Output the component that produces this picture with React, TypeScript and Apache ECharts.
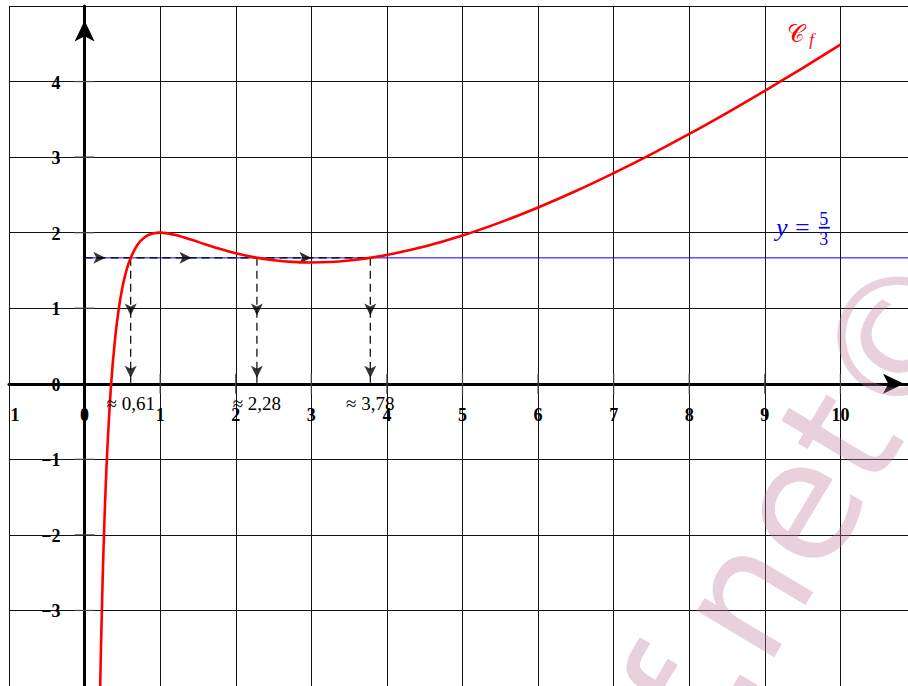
import React, { useEffect, useRef } from "react";
import * as echarts from "echarts";

// Curve C_f : points
const curveX = [0.2, 0.21, 0.22, 0.24, 0.26, 0.28, 0.3, 0.35, 0.4, 0.45, 0.5, 0.55, 0.6, 0.7, 0.8, 0.9, 1, 1.25, 1.5, 1.75, 2, 2.25, 2.5, 2.75, 3, 3.25, 3.5, 3.75, 4, 4.5, 5, 5.5, 6, 6.5, 7, 7.5, 8, 8.5, 9, 9.5, 10];
const curveY = [-4.362, -3.833, -3.36, -2.552, -1.89, -1.342, -0.884, -0.022, 0.565, 0.977, 1.273, 1.487, 1.643, 1.841, 1.943, 1.988, 2, 1.957, 1.878, 1.797, 1.727, 1.673, 1.635, 1.613, 1.606, 1.612, 1.632, 1.663, 1.705, 1.817, 1.962, 2.136, 2.333, 2.551, 2.788, 3.04, 3.307, 3.587, 3.878, 4.179, 4.49];

// Horizontal level y = 5/3 and its solutions
const level = 5 / 3;
const solutions = [0.61, 2.28, 3.78];
const solutionLabels = ["≈ 0,61", "≈ 2,28", "≈ 3,78"];

// Axes ticks and labels
const xTicks = [1, 2, 3, 4, 5, 6, 7, 8, 9, 10];
const yTicks = [-3, -2, -1, 1, 2, 3, 4];
const xLabelValues = [-1, 0, 1, 2, 3, 4, 5, 6, 7, 8, 9, 10];
const xLabelTexts = ["1", "0", "1", "2", "3", "4", "5", "6", "7", "8", "9", "10"];
const yLabelValues = [-3, -2, -1, 0, 1, 2, 3, 4];
const yLabelTexts = ["\u22123", "\u22122", "\u22121", "0", "1", "2", "3", "4"];

const X_MIN = -1, X_MAX = 11, Y_MIN = -4, Y_MAX = 5;

const SERIF = "'Liberation Serif', 'DejaVu Serif', serif";

export default function App() {
  const ref = useRef<HTMLDivElement>(null);
  useEffect(() => {
    const chart = echarts.init(ref.current as HTMLDivElement, null, { renderer: "svg" });

    const hArrows = [
      [(0 + solutions[0]) / 2 - 0.03, level],
      [(solutions[0] + solutions[1]) / 2 - 0.03, level],
      [(solutions[1] + solutions[2]) / 2 - 0.03, level],
    ];
    const dArrows: number[][] = [];
    solutions.forEach((s) => {
      dArrows.push([s, level / 2 + 0.07]);
      dArrows.push([s, 0.08]);
    });

    const option: any = {
      animation: false,
      backgroundColor: "#ffffff",
      grid: { left: 9, right: -8, top: 6, bottom: 0, containLabel: false, outerBoundsMode: "none" },
      xAxis: {
        type: "value",
        min: X_MIN,
        max: X_MAX,
        interval: 1,
        axisLine: {
          show: true,
          onZero: true,
          lineStyle: { color: "#000", width: 3 },
          symbol: ["none", "arrow"],
          symbolSize: [15, 21],
          symbolOffset: [0, -12],
        },
        axisTick: { show: false },
        axisLabel: { show: false },
        splitLine: { show: true, showMinLine: true, showMaxLine: false, lineStyle: { color: "#111", width: 1 } },
      },
      yAxis: {
        type: "value",
        min: Y_MIN,
        max: Y_MAX,
        interval: 1,
        axisLine: {
          show: true,
          onZero: true,
          lineStyle: { color: "#000", width: 3 },
          symbol: ["none", "arrow"],
          symbolSize: [15, 21],
          symbolOffset: [0, -14.5],
        },
        axisTick: { show: false },
        axisLabel: { show: false },
        splitLine: { show: true, showMinLine: false, showMaxLine: true, lineStyle: { color: "#111", width: 1 } },
      },
      series: [
        {
          type: "line",
          data: [[0, level], [X_MAX, level]],
          symbol: "none",
          lineStyle: { color: "#0000ff", width: 1 },
          silent: true,
          z: 2,
        },
        {
          type: "line",
          data: [[0, level], [solutions[2], level]],
          symbol: "none",
          lineStyle: { color: "#000", width: 1.2, type: [8, 5] },
          silent: true,
          z: 3,
        },
        ...solutions.map((s) => ({
          type: "line",
          data: [[s, level], [s, 0]],
          symbol: "none",
          lineStyle: { color: "#000", width: 1.2, type: [8, 5] },
          silent: true,
          z: 3,
        })),
        {
          type: "scatter",
          data: hArrows,
          symbol: "arrow",
          symbolSize: [9, 12],
          symbolRotate: -90,
          itemStyle: { color: "#000" },
          silent: true,
          z: 4,
        },
        {
          type: "scatter",
          data: dArrows,
          symbol: "arrow",
          symbolSize: [9, 12],
          symbolRotate: 180,
          itemStyle: { color: "#000" },
          silent: true,
          z: 4,
        },
        {
          type: "custom",
          silent: true,
          clip: false,
          z: 3,
          data: [...xTicks.map((v) => [v, 0]), ...yTicks.map((v) => [v, 1])],
          renderItem: (_p: any, api: any) => {
            const v = api.value(0);
            const o = api.value(1);
            const pt = o === 0 ? api.coord([v, 0]) : api.coord([0, v]);
            const L = 10;
            const shape =
              o === 0
                ? { x1: pt[0], y1: pt[1] - L, x2: pt[0], y2: pt[1] + L }
                : { x1: pt[0] - L, y1: pt[1], x2: pt[0] + L, y2: pt[1] };
            return { type: "line", shape, style: { stroke: "#444", lineWidth: 1.2 } };
          },
        },
        {
          type: "line",
          data: curveX.map((x, i) => [x, curveY[i]]),
          symbol: "none",
          smooth: 0.3,
          lineStyle: { color: "#ff0000", width: 2.6 },
          silent: true,
          z: 5,
        },
      ],
    };
    chart.setOption(option);

    const px = (p: number[]) => chart.convertToPixel({ gridIndex: 0 }, p) as number[];
    const graphics: any[] = [];

    // Axis labels
    xLabelValues.forEach((v, i) => {
      const p = px([v, 0]);
      graphics.push({
        type: "text", x: p[0] + (v === -1 ? 6 : 0), y: p[1] + 31, z: 1, silent: true,
        style: { text: xLabelTexts[i], font: `bold 18px ${SERIF}`, fill: "#000", textAlign: "center", textVerticalAlign: "middle" },
      });
    });
    yLabelValues.forEach((v, i) => {
      const p = px([0, v]);
      graphics.push({
        type: "text", x: p[0] - 24, y: p[1] + 1, z: 1, silent: true,
        style: { text: yLabelTexts[i], font: `bold 18px ${SERIF}`, fill: "#000", textAlign: "right", textVerticalAlign: "middle" },
      });
    });

    solutions.forEach((s, i) => {
      const p = px([s, -0.265]);
      graphics.push({
        type: "text", x: p[0], y: p[1], z: 100, silent: true,
        style: { text: solutionLabels[i], font: `19px ${SERIF}`, fill: "#000", textAlign: "center", textVerticalAlign: "middle" },
      });
    });

    // y = 5/3 label
    const pY = px([9.225, 2.062]);
    graphics.push({
      type: "text", x: pY[0], y: pY[1], z: 100, silent: true,
      style: { text: "y", font: `italic 26px ${SERIF}`, fill: "#0000ff", textAlign: "center", textVerticalAlign: "middle" },
    });
    const pEq = px([9.496, 2.062]);
    graphics.push({
      type: "text", x: pEq[0], y: pEq[1], z: 100, silent: true,
      style: { text: "=", font: `26px ${SERIF}`, fill: "#0000ff", textAlign: "center", textVerticalAlign: "middle" },
    });
    const p5 = px([9.78, 2.185]);
    graphics.push({
      type: "text", x: p5[0], y: p5[1], z: 100, silent: true,
      style: { text: "5", font: `18px ${SERIF}`, fill: "#0000ff", textAlign: "center", textVerticalAlign: "middle" },
    });
    const p3 = px([9.78, 1.92]);
    graphics.push({
      type: "text", x: p3[0], y: p3[1], z: 100, silent: true,
      style: { text: "3", font: `18px ${SERIF}`, fill: "#0000ff", textAlign: "center", textVerticalAlign: "middle" },
    });
    const b1 = px([9.714, 2.065]);
    const b2 = px([9.86, 2.065]);
    graphics.push({
      type: "line", z: 100, silent: true,
      shape: { x1: b1[0], y1: b1[1], x2: b2[0], y2: b2[1] },
      style: { stroke: "#0000ff", lineWidth: 1.8 },
    });

    // Curve name
    const pC = px([9.41, 4.625]);
    graphics.push({
      type: "text", x: pC[0], y: pC[1], z: 100, silent: true,
      style: { text: "𝒞", font: `24px 'DejaVu Serif', 'DejaVu Sans', serif`, fill: "#ff0000", textAlign: "center", textVerticalAlign: "middle" },
    });
    const pF = px([9.62, 4.563]);
    graphics.push({
      type: "text", x: pF[0], y: pF[1], z: 100, silent: true,
      style: { text: "f", font: `italic 17px ${SERIF}`, fill: "#ff0000", textAlign: "center", textVerticalAlign: "middle" },
    });

    // Watermark
    graphics.push({
      type: "text", x: 667, y: 725, rotation: 1.03, z: 90, silent: true,
      style: { text: "f.net©", font: `165px 'DejaVu Sans', sans-serif`, fill: "rgba(190,120,155,0.35)", textAlign: "left", textVerticalAlign: "middle" },
    });

    chart.setOption({ graphic: graphics });
    return () => chart.dispose();
  }, []);

  return <div ref={ref} style={{ position: "absolute", left: 0, top: 0, width: 908, height: 686 }} />;
}
